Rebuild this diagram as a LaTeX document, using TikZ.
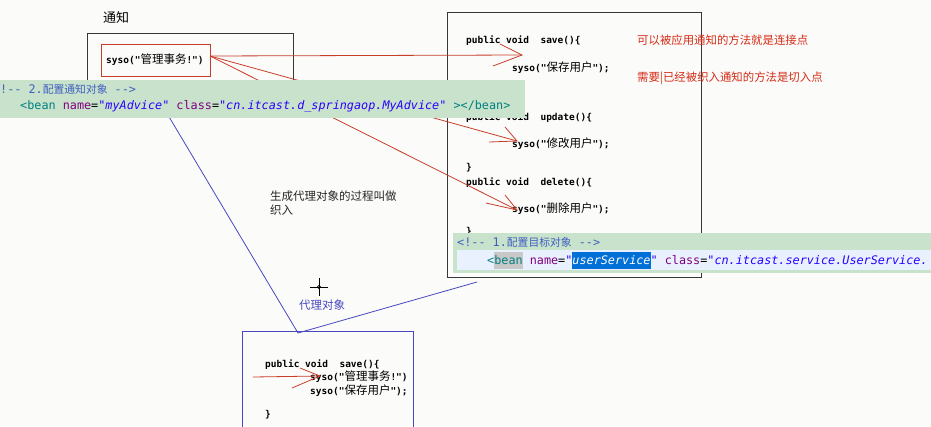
\documentclass[tikz,border=0pt]{standalone}
\usepackage{fontspec}
\setmainfont{DejaVu Sans}
\setmonofont{DejaVu Sans Mono}
\newfontfamily\cjk{Noto Sans CJK SC}
\definecolor{paper}{RGB}{251,251,250}
\definecolor{boxgray}{RGB}{55,55,55}
\definecolor{linered}{RGB}{200,62,42}
\definecolor{notered}{RGB}{214,44,22}
\definecolor{lineblue}{RGB}{72,72,192}
\definecolor{bandgreen}{RGB}{200,226,204}
\definecolor{linehl}{RGB}{232,241,253}
\definecolor{cmtblue}{RGB}{63,95,191}
\definecolor{tagteal}{RGB}{0,128,128}
\definecolor{attrpurple}{RGB}{127,0,127}
\definecolor{valblue}{RGB}{42,0,255}
\definecolor{selblue}{RGB}{0,112,215}
\definecolor{brgray}{RGB}{200,200,200}
\newcommand{\codefont}{\ttfamily\bfseries\fontsize{9.5}{11}\selectfont}
\newcommand{\xmlfont}{\ttfamily\fontsize{11.8}{13}\selectfont}
\newcommand{\zhc}[1]{{\cjk\mdseries\fontsize{11.5}{12}\selectfont #1}}
\newcommand{\zhx}[1]{{\cjk\fontsize{10.8}{12}\selectfont #1}}
\newcommand{\val}[1]{\textcolor{valblue}{\itshape #1}}
\tikzset{
  txt/.style={inner sep=0pt, anchor=west},
  code/.style={txt, font=\codefont},
  xml/.style={txt, font=\xmlfont},
  note/.style={txt, text=notered, font=\cjk\fontsize{11.4}{14}\selectfont},
  codebox/.style={draw=boxgray, line width=0.8pt},
  redline/.style={draw=linered, line width=0.8pt},
  blueline/.style={draw=lineblue, line width=0.8pt},
}
\begin{document}
\begin{tikzpicture}[x=1pt,y=-1pt]
  \useasboundingbox[fill=paper] (0,0) rectangle (931,426);
  % advice
  \node[txt, font=\cjk\fontsize{13}{13}\selectfont] (advLabel) at (103,18) {通知};
  \draw[codebox] (87,33) rectangle (293,112);
  \draw[redline] (101,44) rectangle (210,76);
  \node[code] (advCode) at (106,60) {syso("\zhc{管理事务}!")};
  \coordinate (src) at (210,56);
  % target
  \draw[codebox] (447,12) rectangle (701,277);
  \node[code] (saveHead) at (466,41) {public void\ \ save()\{};
  \node[code] (saveBody) at (512,68) {syso("\zhc{保存用户}");};
  \node[code] (updHead) at (466,118) {public void\ \ update()\{};
  \node[code] (updBody) at (512,144) {syso("\zhc{修改用户}");};
  \node[code] (updEnd) at (466,168) {\}};
  \node[code] (delHead) at (466,183) {public void\ \ delete()\{};
  \node[code] (delBody) at (512,209) {syso("\zhc{删除用户}");};
  \node[code] (delEnd) at (466,232) {\}};
  \node[note] (joinPt) at (637,40) {可以被应用通知的方法就是连接点};
  \node[note] (cutPt) at (637,78) {需要|已经被织入通知的方法是切入点};
  % weaving
  \node[txt, anchor=north west, align=left, text=black!85,
    font=\cjk\fontsize{11.5}{14}\selectfont] (weave) at (270,191) {生成代理对象的过程叫做\\织入};
  \node[txt, text=lineblue, font=\cjk\fontsize{11.5}{12}\selectfont] (proxyLabel) at (299,305) {代理对象};
  \draw[black, line width=0.8pt] (319,278) -- (319,296) (310,287) -- (328,287);
  \draw[black, line width=0.6pt] (319,287) circle (1.6);
  % proxy
  \draw[blueline] (242,440) -- (242,331) -- (413,331) -- (413,440);
  \node[code] (pxHead) at (265,365) {public void\ \ save()\{};
  \node[code] (pxAdv) at (310,377) {syso("\zhc{管理事务}!")};
  \node[code] (pxBody) at (310,391) {syso("\zhc{保存用户}");};
  \node[code] (pxEnd) at (265,415) {\}};
  % arrows
  \coordinate (tSave) at (522,55);
  \coordinate (tUpd) at (517,141);
  \coordinate (tDel) at (517,210);
  \coordinate (pSrc) at (253,377);
  \coordinate (tPx) at (320,376);
  \draw[redline] (src) -- (tSave);
  \draw[redline] (src) -- (tUpd);
  \draw[redline] (src) -- (tDel);
  \draw[redline] (pSrc) -- (tPx);
  \draw[redline] (tSave) ++(-22,-11) -- (tSave) -- ++(-29,11);
  \draw[redline] (tUpd) ++(-12,-14) -- (tUpd) -- ++(-28,1);
  \draw[redline] (tDel) ++(-12,-15) -- (tDel) -- ++(-31,-7);
  \draw[redline] (tPx) ++(-20,-8) -- (tPx) -- ++(-28,12);
  \coordinate (advFoot) at (159,100);
  \coordinate (pxTop) at (298,333);
  \coordinate (tgtFoot) at (477,282);
  \draw[blueline] (advFoot) -- (pxTop) -- (tgtFoot);
  % xml bands
  \fill[bandgreen] (0,80) rectangle (525,118);
  \node[xml, text=cmtblue] (advCmt) at (0,89) {!-- 2.\zhx{配置通知对象} -->};
  \node[xml] (advBean) at (20,106) {\textcolor{tagteal}{<bean} \textcolor{attrpurple}{name}=\val{"myAdvice"} \textcolor{attrpurple}{class}=\val{"cn.itcast.d\_springaop.MyAdvice"} \textcolor{tagteal}{></bean>}};
  \fill[bandgreen] (453,233) rectangle (931,273);
  \fill[linehl] (457,250) rectangle (931,270);
  \node[xml, text=cmtblue] (tgtCmt) at (457,242) {<!-- 1.\zhx{配置目标对象} -->};
  \node[xml] (tgtBean) at (487,260) {\fboxsep=0pt\textcolor{tagteal}{<\colorbox{brgray}{\rule[-4.5pt]{0pt}{17pt}bean}} \textcolor{attrpurple}{name}=\val{"}\colorbox{selblue}{\rule[-4.5pt]{0pt}{17pt}\textcolor{white}{\itshape userService}}\val{"} \textcolor{attrpurple}{class}=\val{"cn.itcast.service.UserService.}};
\end{tikzpicture}
\end{document}
